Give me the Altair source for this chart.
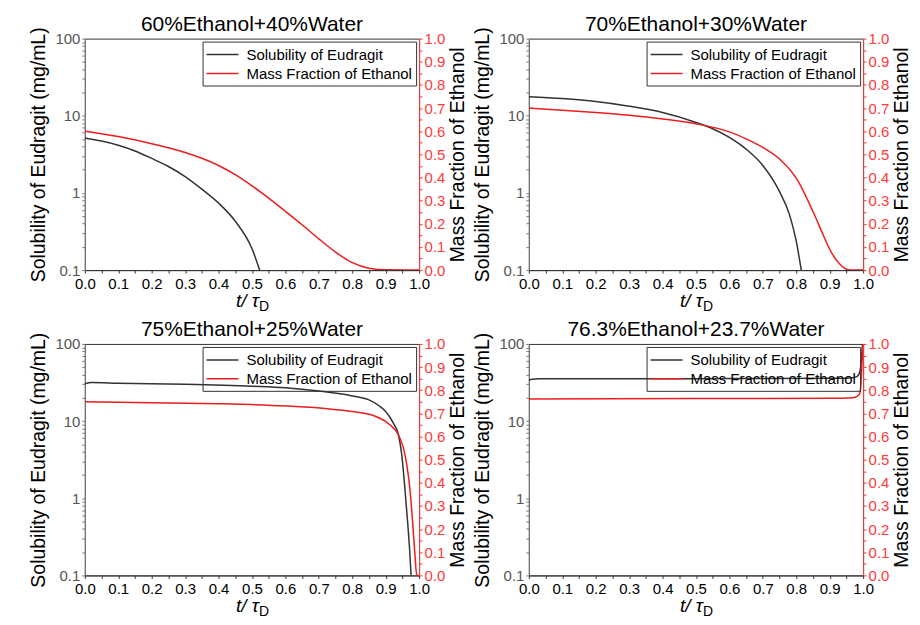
import altair as alt
import pandas as pd

FONT = "Liberation Sans"
SOL = "Solubility of Eudragit"
FRAC = "Mass Fraction of Ethanol"
BLACK = "#333333"
RED = "#ee1c1c"
W, H = 335, 232

titles = ["60%Ethanol+40%Water", "70%Ethanol+30%Water",
          "75%Ethanol+25%Water", "76.3%Ethanol+23.7%Water"]

# Panel 1
p1_t_sol = [0, 0.05, 0.1, 0.15, 0.2, 0.25, 0.3, 0.35, 0.4, 0.45, 0.5, 0.523]
p1_sol = [5.15, 4.7, 4.15, 3.5, 2.8, 2.2, 1.63, 1.12, 0.74, 0.43, 0.19, 0.1]
p1_t_frac = [0, 0.1, 0.2, 0.3, 0.35, 0.4, 0.45, 0.5, 0.55, 0.6, 0.65, 0.7, 0.75, 0.8, 0.85, 0.9, 1.0]
p1_frac = [0.60, 0.577, 0.546, 0.508, 0.483, 0.452, 0.412, 0.364, 0.311, 0.254, 0.196, 0.135, 0.078, 0.032, 0.008, 0.001, 0.0]

# Panel 2
p2_t_sol = [0, 0.1, 0.2, 0.3, 0.4, 0.5, 0.55, 0.6, 0.65, 0.7, 0.75, 0.78, 0.8, 0.815]
p2_sol = [17.7, 16.7, 15.3, 13.3, 11.0, 8.2, 6.8, 5.25, 3.7, 2.27, 1.04, 0.52, 0.237, 0.1]
p2_t_frac = [0, 0.1, 0.2, 0.3, 0.4, 0.5, 0.6, 0.65, 0.7, 0.75, 0.8, 0.85, 0.88, 0.9, 0.93, 0.95, 0.97, 1.0]
p2_frac = [0.70, 0.691, 0.681, 0.669, 0.653, 0.632, 0.597, 0.567, 0.53, 0.48, 0.397, 0.253, 0.154, 0.09, 0.026, 0.004, 0.0, 0.0]

# Panel 3
p3_t_sol = [0, 0.02, 0.1, 0.3, 0.5, 0.6, 0.7, 0.8, 0.85, 0.88, 0.9, 0.923, 0.938, 0.948, 0.958, 0.966, 0.973, 0.976]
p3_sol = [30.4, 31.6, 31.0, 30.0, 28.3, 27.0, 24.5, 21.2, 18.8, 15.8, 13.3, 9.4, 6.7, 3.7, 1.26, 0.47, 0.175, 0.1]
p3_t_frac = [0, 0.2, 0.4, 0.5, 0.6, 0.726, 0.8, 0.863, 0.9, 0.923, 0.938, 0.953, 0.963, 0.973, 0.981, 0.988, 0.993, 1.0]
p3_frac = [0.75, 0.746, 0.742, 0.738, 0.732, 0.72, 0.708, 0.691, 0.665, 0.637, 0.608, 0.551, 0.48, 0.367, 0.224, 0.081, 0.0, 0.0]

# Panel 4
p4_t_sol = [0, 0.01, 0.03, 0.5, 0.95, 0.98, 0.99, 0.995, 0.998]
p4_sol = [33.8, 34.8, 35.3, 35.5, 35.8, 37.4, 43, 64, 100]
p4_t_frac = [0, 0.5, 0.9, 0.97, 0.98, 0.99, 0.993, 0.996, 0.998, 1.0]
p4_frac = [0.762, 0.764, 0.765, 0.768, 0.772, 0.786, 0.82, 0.89, 0.96, 1.0]

x_ticks = [i / 20 for i in range(21)]
log_ticks = [m * 10.0 ** e for e in (-1, 0, 1) for m in range(1, 10)] + [100]
frac_ticks = [i / 20 for i in range(21)]

LBL = 15


def panel(title, t_sol, sol, t_frac, frac):
    df_s = pd.DataFrame({"t": t_sol, "v": sol, "series": SOL})
    df_f = pd.DataFrame({"t": t_frac, "v": frac, "series": FRAC})
    color = alt.Color(
        "series:N",
        scale=alt.Scale(domain=[SOL, FRAC], range=[BLACK, RED]),
        legend=alt.Legend(
            title=None, orient="top-right", offset=3, padding=4,
            strokeColor="#333333", symbolType="M-2,0L2,0", symbolSize=256,
            symbolStrokeWidth=1.5, symbolOffset=7, labelFont=FONT, labelFontSize=15,
            labelColor="black", rowPadding=2, labelOffset=15, labelLimit=400,
        ),
    )
    xenc = alt.X(
        "t:Q",
        scale=alt.Scale(domain=[0, 1], nice=False),
        axis=alt.Axis(
            values=x_ticks, title=None, grid=False,
            labelExpr="round(datum.value*100) % 10 == 0 ? format(datum.value, '.1f') : ''",
            labelOverlap=False, labelFlush=False, labelFont=FONT, labelFontSize=LBL,
            labelColor="black", domainColor="#333333", tickColor="#333333",
            tickSize=3, labelPadding=3,
        ),
    )
    s = alt.Chart(df_s).mark_line(clip=True, strokeWidth=1.5, interpolate="monotone").encode(
        x=xenc,
        y=alt.Y(
            "v:Q",
            scale=alt.Scale(type="log", domain=[0.1, 100], nice=False),
            axis=alt.Axis(
                values=log_ticks, title="Solubility of Eudragit (mg/mL)", grid=False,
                labelExpr="abs(log(datum.value)/LN10 - round(log(datum.value)/LN10)) < 0.001 ? format(datum.value, '~g') : ''",
                labelOverlap=False, labelFlush=False, labelFont=FONT, labelFontSize=LBL,
                labelColor="#555555", domainColor="#777777", tickColor="#777777",
                tickSize=3, labelPadding=2, titleFont=FONT, titleFontSize=19.5,
                titleFontWeight="normal", titleColor="black", titlePadding=6,
            ),
        ),
        color=color,
    )
    f = alt.Chart(df_f).mark_line(clip=True, strokeWidth=1.5, interpolate="monotone").encode(
        x=xenc,
        y=alt.Y(
            "v:Q",
            scale=alt.Scale(domain=[0, 1], nice=False),
            axis=alt.Axis(
                orient="right", values=frac_ticks, title=FRAC, grid=False,
                labelExpr="round(datum.value*100) % 10 == 0 ? format(datum.value, '.1f') : ''",
                labelOverlap=False, labelFlush=False, labelFont=FONT, labelFontSize=LBL,
                labelColor="#ff3a3a", domainColor="#ff3a3a", tickColor="#ff3a3a",
                tickSize=3, labelPadding=2, titleFont=FONT, titleFontSize=19.5,
                titleFontWeight="normal", titleColor="black", titlePadding=4,
                titleAngle=270, titleBaseline="top",
            ),
        ),
        color=color,
    )
    one = pd.DataFrame({"a": [0]})
    ttl = alt.Chart(one).mark_text(
        font=FONT, fontSize=21, align="center", baseline="alphabetic", color="black"
    ).encode(x=alt.value(W / 2), y=alt.value(-8), text=alt.value(title))
    lab = alt.Chart(one).mark_text(
        font=FONT, fontSize=19, fontStyle="italic", align="right", baseline="alphabetic", color="black"
    ).encode(x=alt.value(W / 2 + 7), y=alt.value(H + 37), text=alt.value("t/ τ"))
    sub = alt.Chart(one).mark_text(
        font=FONT, fontSize=14, align="left", baseline="alphabetic", color="black"
    ).encode(x=alt.value(W / 2 + 7), y=alt.value(H + 41), text=alt.value("D"))
    return alt.layer(s, f, ttl, lab, sub).resolve_scale(y="independent").properties(
        width=W, height=H,
    )


p1 = panel(titles[0], p1_t_sol, p1_sol, p1_t_frac, p1_frac)
p2 = panel(titles[1], p2_t_sol, p2_sol, p2_t_frac, p2_frac)
p3 = panel(titles[2], p3_t_sol, p3_sol, p3_t_frac, p3_frac)
p4 = panel(titles[3], p4_t_sol, p4_sol, p4_t_frac, p4_frac)

row1 = alt.hconcat(p1, p2, spacing=4).resolve_scale(color="independent")
row2 = alt.hconcat(p3, p4, spacing=4).resolve_scale(color="independent")
chart = (
    alt.vconcat(row1, row2, spacing=3)
    .resolve_scale(color="independent")
    .properties(padding={"left": 20, "top": 4, "right": 0, "bottom": 0})
    .configure_view(stroke="#333333", strokeWidth=1)
)

chart.save("out.html", embed_options={"renderer": "svg", "actions": False})
